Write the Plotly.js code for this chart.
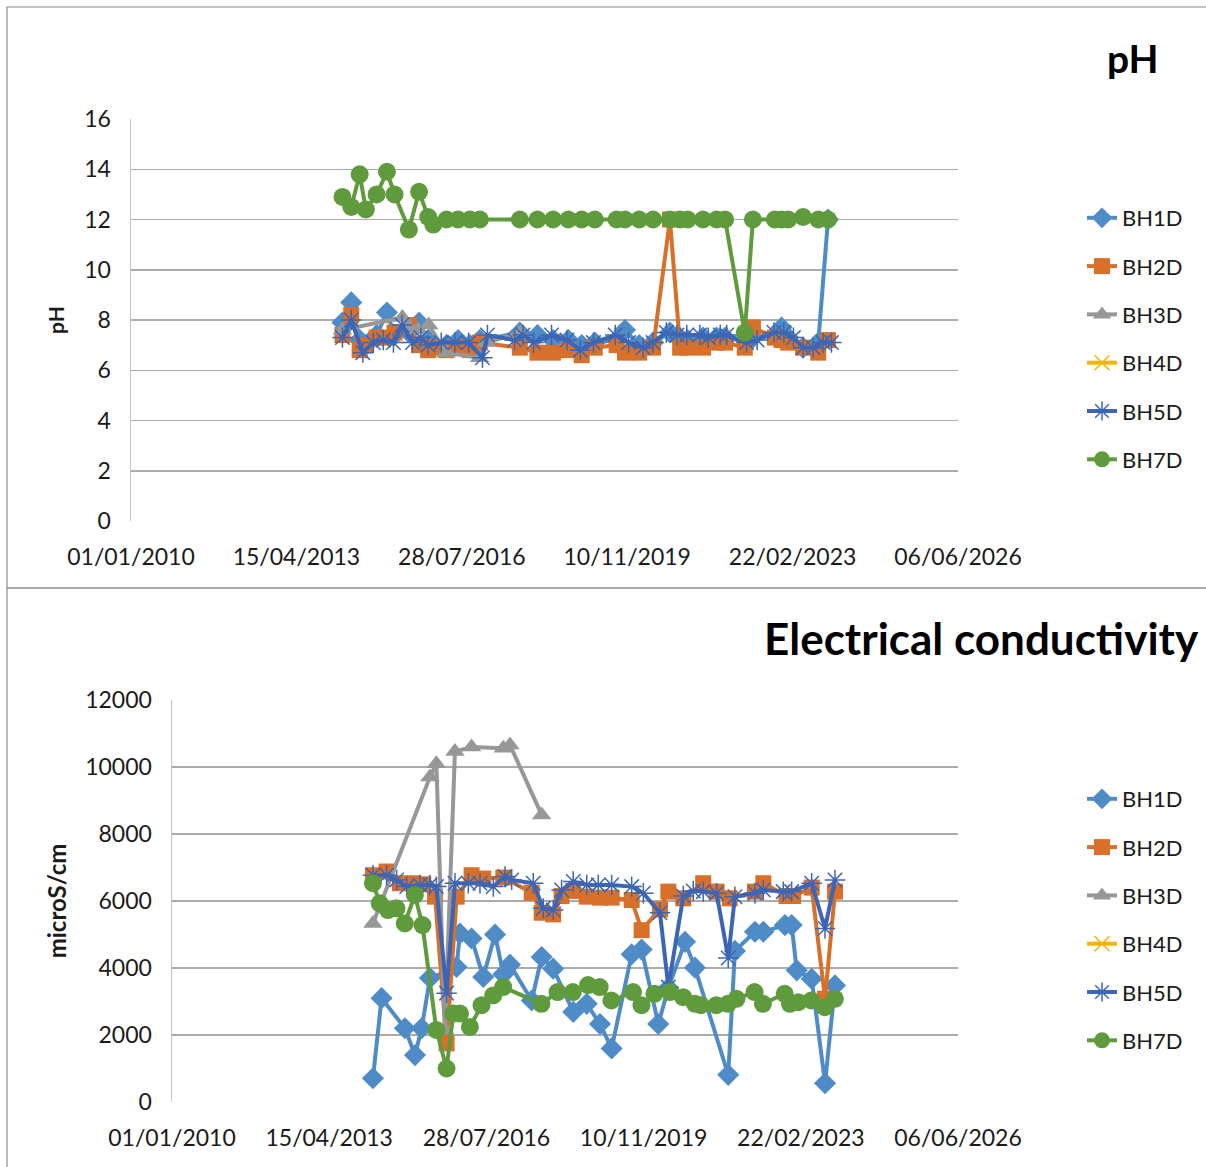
<!DOCTYPE html>
<html><head><meta charset="utf-8">
<script src="https://cdn.plot.ly/plotly-3.0.1.min.js"></script>
<style>html,body{margin:0;padding:0;background:#fff}#chart{width:1206px;height:1167px}</style>
</head><body><div id="chart"></div>
<script>
// ---------- shared axis ticks ----------
const tickDates = ['2010-01-01','2013-04-15','2016-07-28','2019-11-10','2023-02-22','2026-06-06'];
const seriesNames = ['BH1D','BH2D','BH3D','BH4D','BH5D','BH7D'];

// ---------- pH chart ----------
const phDates7 = ['2014-03-15','2014-05-18','2014-07-18','2014-09-01','2014-11-18','2015-02-01','2015-03-28','2015-07-10','2015-09-22','2015-11-27','2016-01-03','2016-04-08','2016-07-01','2016-09-25','2016-12-06','2017-09-22','2018-01-28','2018-05-21','2018-09-09','2018-12-15','2019-03-20','2019-08-25','2019-10-25','2020-02-05','2020-05-16','2020-09-15','2020-11-28','2021-01-22','2021-05-13','2021-08-20','2021-10-20','2022-03-12','2022-05-10','2022-10-16','2022-12-04','2023-01-21','2023-05-09','2023-08-27','2023-11-06'];
const phBH7D = [12.9,12.5,13.8,12.4,13.0,13.9,13.0,11.6,13.1,12.1,11.8,12,12,12,12,12,12,12,12,12,12,12,12,12,12,12,12,12,12,12,12,7.5,12,12,12,12,12.1,12,12];
const phBH2D = [7.4,8.2,6.8,7.0,7.3,7.3,7.5,7.8,7.0,6.8,6.9,6.8,6.9,6.8,7.1,6.9,6.7,6.7,6.8,6.6,6.9,7.0,6.7,6.7,6.9,12.0,6.9,6.9,6.9,7.1,7.1,6.9,7.7,7.3,7.2,7.1,6.9,6.7,7.2];
const phBH1D = [7.9,8.7,7.2,7.0,7.4,8.3,7.4,7.5,7.9,7.2,7.0,7.0,7.2,7.0,7.2,7.5,7.4,7.2,7.2,7.0,7.1,7.2,7.6,7.0,7.1,7.5,7.2,7.2,7.3,7.3,7.3,7.2,7.3,7.4,7.7,7.3,6.9,7.1,12.0];
const phDates3 = ['2014-03-15','2015-05-24','2015-07-12','2015-09-15','2015-12-01','2016-04-06','2016-12-04','2017-01-24','2017-09-23'];
const phBH3D = [7.6,8.1,7.7,7.6,7.8,6.7,6.5,7.1,7.5];
const phDates5 = ['2014-03-15','2014-05-18','2014-08-10','2014-10-25','2015-01-05','2015-03-20','2015-05-21','2015-08-05','2015-10-05','2015-11-25','2016-03-01','2016-06-08','2016-09-15','2016-12-25','2017-01-30','2017-08-15','2017-10-15','2017-12-31','2018-05-10','2018-08-30','2018-12-05','2019-03-10','2019-08-15','2019-11-20','2020-03-05','2020-05-15','2020-08-20','2020-11-05','2021-01-15','2021-04-20','2021-06-20','2021-09-15','2021-11-01','2022-03-25','2022-06-10','2022-10-10','2022-12-20','2023-02-28','2023-05-10','2023-07-20','2023-10-01','2023-12-01'];
const phBH5D = [7.3,8.0,6.7,7.1,7.2,7.1,7.8,7.1,7.3,7.0,7.1,7.1,7.1,6.5,7.4,7.2,7.4,7.1,7.4,7.2,6.8,7.1,7.4,7.1,6.9,7.1,7.5,7.4,7.4,7.4,7.3,7.4,7.4,7.1,7.2,7.5,7.5,7.3,6.9,6.9,7.1,7.1];
const phDates4 = [null];   // BH4D has no readings
const phBH4D = [null];

// ---------- Electrical conductivity chart ----------
const ecDates1 = ['2014-03-15','2014-05-20','2014-11-14','2015-01-30','2015-03-22','2015-05-24','2015-12-13','2016-01-08','2016-04-06','2016-07-04','2016-10-02','2016-12-04','2017-01-24','2017-07-09','2017-09-23','2017-12-20','2018-05-22','2018-09-02','2018-12-12','2019-03-11','2019-08-11','2019-10-26','2020-03-01','2020-05-17','2020-09-21','2020-12-06','2021-08-17','2021-10-07','2022-03-09','2022-05-12','2022-10-24','2022-12-14','2023-01-22','2023-05-16','2023-08-26','2023-11-10'];
const ecBH1D = [710,3100,2200,1400,2200,3700,4030,5030,4880,3730,5000,3810,4100,3030,4330,3980,2690,2930,2330,1600,4410,4550,2330,3400,4780,4010,810,4510,5080,5080,5280,5280,3930,3680,560,3480];
const ecDates2 = ['2014-03-15','2014-06-27','2014-10-07','2015-01-17','2015-04-03','2015-07-02','2015-09-28','2015-12-14','2016-04-06','2016-07-04','2016-12-04','2017-07-09','2017-09-23','2017-12-20','2018-02-22','2018-05-22','2018-09-02','2018-12-12','2019-03-11','2019-08-11','2019-10-26','2020-03-14','2020-05-17','2020-09-08','2021-02-07','2021-05-20','2021-08-29','2022-03-09','2022-05-12','2022-11-05','2022-12-26','2023-05-16','2023-08-26','2023-11-10'];
const ecBH2D = [6770,6880,6530,6530,6500,6130,1750,6130,6770,6670,6700,6250,5650,5600,6150,6300,6130,6100,6100,6030,5130,5750,6280,6080,6530,6280,6080,6280,6530,6150,6150,6400,3080,6280];
const ecDates3 = ['2014-03-15','2015-05-24','2015-07-12','2015-09-15','2015-12-01','2016-04-06','2016-12-04','2017-01-24','2017-09-23'];
const ecBH3D = [5330,9700,10100,2150,10460,10600,10560,10660,8570];
const ecDates5 = ['2014-03-15','2014-06-27','2014-09-12','2014-11-28','2015-03-08','2015-05-24','2015-07-12','2015-09-28','2015-12-01','2016-03-12','2016-06-09','2016-09-19','2016-12-17','2017-02-06','2017-07-21','2017-10-05','2017-12-20','2018-02-22','2018-05-22','2018-09-02','2018-11-29','2019-03-11','2019-08-11','2019-11-08','2020-03-14','2020-05-17','2020-09-08','2020-11-23','2021-02-07','2021-05-20','2021-08-17','2021-10-07','2022-03-09','2022-05-12','2022-10-11','2022-12-14','2023-05-16','2023-08-26','2023-11-10'];
const ecBH5D = [6770,6770,6630,6430,6480,6480,6430,3250,6530,6530,6530,6430,6730,6630,6530,5780,5730,6330,6580,6480,6480,6480,6430,6230,5650,3430,6150,6300,6280,6230,4300,6130,6230,6330,6280,6280,6530,5180,6630];
const ecDates7 = ['2014-03-15','2014-05-06','2014-07-07','2014-09-10','2014-11-13','2015-01-29','2015-03-28','2015-07-12','2015-09-28','2015-11-18','2016-01-08','2016-03-24','2016-06-21','2016-09-18','2016-12-03','2017-09-21','2018-01-22','2018-05-19','2018-09-12','2018-12-10','2019-03-09','2019-08-21','2019-10-25','2020-01-31','2020-05-28','2020-09-07','2020-12-06','2021-01-20','2021-05-18','2021-08-15','2021-10-19','2022-03-06','2022-05-09','2022-10-22','2022-12-01','2023-02-03','2023-05-13','2023-08-24','2023-11-09'];
const ecBH7D = [6530,5930,5730,5780,5330,6180,5280,2150,1000,2640,2640,2240,2890,3180,3430,2930,3280,3280,3490,3430,3030,3280,2890,3230,3280,3130,2930,2890,2890,2930,3080,3280,2930,3230,2930,2980,3030,2830,3080];
const ecDates4 = [null];   // BH4D has no readings
const ecBH4D = [null];

// ---------- styles ----------
const style = {
  BH1D: {color:'#4f8bc7', symbol:'diamond', size:17},
  BH2D: {color:'#d8702a', symbol:'square', size:16},
  BH3D: {color:'#979797', symbol:'triangle-up', size:17},
  BH4D: {color:'#f2b600', symbol:'x-thin-open', size:15},
  BH5D: {color:'#3c66b5', symbol:'asterisk-open', size:17},
  BH7D: {color:'#5f9b3c', symbol:'circle', size:18}
};
const FONT = 'Lato, "Open Sans", sans-serif';

function mk(name, x, y, xa, ya, leg){
  const s = style[name];
  const open = s.symbol.indexOf('open') >= 0;
  return {
    type:'scatter', mode:'lines+markers', name:name, x:x, y:y,
    xaxis:xa, yaxis:ya, legend:leg, legendgroup:leg+name, showlegend:true,
    line:{color:s.color, width:4},
    marker:{symbol:s.symbol, size:s.size, color:s.color,
            line:{color:s.color, width: open ? 1.5 : 0}},
    hoverinfo:'skip'
  };
}

const phData = {BH1D:[phDates7,phBH1D], BH2D:[phDates7,phBH2D], BH3D:[phDates3,phBH3D], BH4D:[phDates4,phBH4D], BH5D:[phDates5,phBH5D], BH7D:[phDates7,phBH7D]};
const ecData = {BH1D:[ecDates1,ecBH1D], BH2D:[ecDates2,ecBH2D], BH3D:[ecDates3,ecBH3D], BH4D:[ecDates4,ecBH4D], BH5D:[ecDates5,ecBH5D], BH7D:[ecDates7,ecBH7D]};

const traces = [];
seriesNames.forEach(n => traces.push(mk(n, phData[n][0], phData[n][1], 'x', 'y', 'legend')));
seriesNames.forEach(n => traces.push(mk(n, ecData[n][0], ecData[n][1], 'x2', 'y2', 'legend2')));

const W = 1206, H = 1167;
const px = v => v / W, py = v => 1 - v / H;

const xCommon = {
  type:'date', range:[tickDates[0], tickDates[tickDates.length-1]],
  tickmode:'array', tickvals:tickDates, tickformat:'%d/%m/%Y',
  showgrid:false, zeroline:false, showline:false, ticks:'',
  tickfont:{family:FONT, size:23, color:'#1a1a1a'}, ticklabelstandoff:20, fixedrange:true
};
const yCommon = {
  showgrid:true, gridcolor:'#ababab', gridwidth:1.5, zeroline:false,
  showline:true, linecolor:'#c4c4c4', linewidth:1.5, ticks:'', tickformat:'d',
  tickfont:{family:FONT, size:23, color:'#1a1a1a'}, ticklabelstandoff:14, fixedrange:true
};

const legendCommon = {
  font:{family:FONT, size:22, color:'#1a1a1a'}, bgcolor:'rgba(0,0,0,0)',
  tracegroupgap:16.7, itemsizing:'trace', xanchor:'left', yanchor:'top', orientation:'v'
};

const layout = {
  width:W, height:H, margin:{l:0,r:0,t:0,b:0},
  paper_bgcolor:'#ffffff', plot_bgcolor:'#ffffff',
  font:{family:FONT, color:'#1a1a1a'},
  xaxis: Object.assign({}, xCommon, {domain:[px(131), px(958)], anchor:'y'}),
  yaxis: Object.assign({}, yCommon, {domain:[py(521), py(119)], anchor:'x', range:[0,16], dtick:2, tick0:0,
          title:{text:'<b>pH</b>', font:{family:FONT, size:21, color:'#1a1a1a'}, standoff:14}}),
  xaxis2: Object.assign({}, xCommon, {domain:[px(172), px(958)], anchor:'y2'}),
  yaxis2: Object.assign({}, yCommon, {domain:[py(1102), py(700)], anchor:'x2', range:[0,12000], dtick:2000, tick0:0,
          title:{text:'<b>microS/cm</b>', font:{family:FONT, size:24, color:'#1a1a1a'}, standoff:12}}),
  legend: Object.assign({}, legendCommon, {x:px(1082), y:py(197)}),
  legend2: Object.assign({}, legendCommon, {x:px(1082), y:py(778)}),
  showlegend:true,
  annotations:[
    {text:'<b>pH</b>', xref:'paper', yref:'paper', x:px(1161), y:py(58), xanchor:'right', yanchor:'middle',
     showarrow:false, font:{family:FONT, size:39, color:'#000'}},
    {text:'<b>Electrical conductivity</b>', xref:'paper', yref:'paper', x:px(1201), y:py(638), xanchor:'right', yanchor:'middle',
     showarrow:false, font:{family:FONT, size:44, color:'#000'}}
  ],
  shapes:[
    {type:'rect', xref:'paper', yref:'paper', x0:px(7), x1:px(1215), y0:py(588), y1:py(7), line:{color:'#8c8c8c', width:1.2}},
    {type:'rect', xref:'paper', yref:'paper', x0:px(7), x1:px(1215), y0:py(1175), y1:py(588), line:{color:'#8c8c8c', width:1.2}}
  ]
};

Plotly.newPlot('chart', traces, layout, {displayModeBar:false, staticPlot:true});
</script></body></html>
